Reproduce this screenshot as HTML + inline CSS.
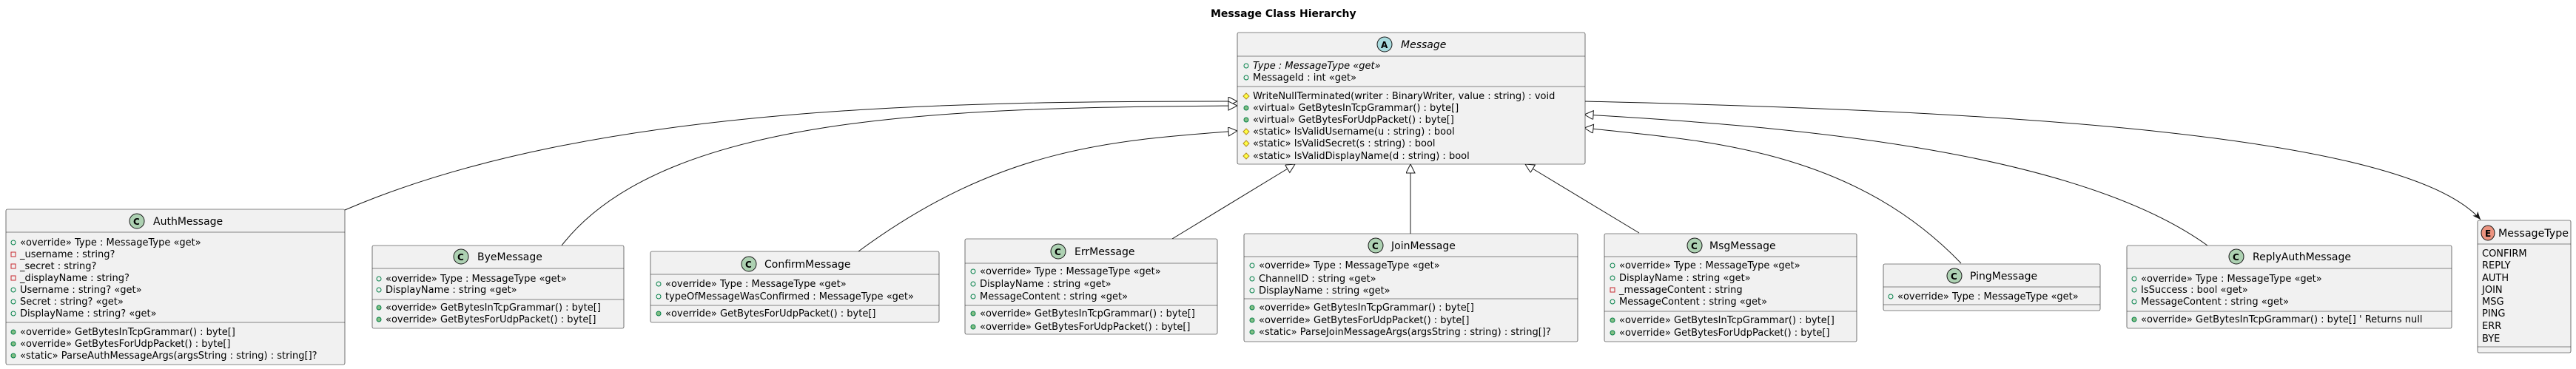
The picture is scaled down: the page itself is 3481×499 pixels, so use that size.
<!DOCTYPE html>
<html><head><meta charset="utf-8"><style>
html,body{margin:0;padding:0;background:#fff;}
svg{display:block;}
text{font-family:"DejaVu Sans","Liberation Sans",sans-serif;font-size:13px;fill:#000;}
.t{font-size:14px;}
.h{font-size:14px;font-weight:bold;}
.b{fill:#F1F1F1;stroke:#181818;stroke-width:0.6;}
.s{stroke:#181818;stroke-width:0.6;}
.c{fill:none;stroke:#181818;stroke-width:1;}
.fo{fill:none;stroke:#038048;stroke-width:1;}
.mo{fill:#84BE84;stroke:#038048;stroke-width:1;}
.po{fill:#FFFF44;stroke:#B38D22;stroke-width:1;}
.xo{fill:none;stroke:#C82930;stroke-width:1;}
</style></head><body>
<svg width="3481" height="499" viewBox="0 0 3481 499" xmlns="http://www.w3.org/2000/svg">
<defs>
<marker id="tri" markerUnits="userSpaceOnUse" markerWidth="14" markerHeight="14" refX="13" refY="6" orient="auto"><path d="M1,0 L13,6 L1,12 Z" fill="#fff" stroke="#181818" stroke-width="1"/></marker>
<marker id="arr" markerUnits="userSpaceOnUse" markerWidth="12" markerHeight="10" refX="11" refY="4.5" orient="auto"><path d="M0,0 L11,4.5 L0,9 L3,4.5 Z" fill="#181818"/></marker>
</defs>

<text class="h" x="1636" y="23">Message Class Hierarchy</text>

<!-- connectors -->
<path class="c" d="M466 284 C 800 140, 1300 137, 1672 137" marker-end="url(#tri)"/>
<path class="c" d="M759 332 C 900 150, 1300 146, 1672 143" marker-end="url(#tri)"/>
<path class="c" d="M1160 340 C 1350 200, 1500 190, 1672 177" marker-end="url(#tri)"/>
<path class="c" d="M1584 323 L 1750 222" marker-end="url(#tri)"/>
<path class="c" d="M1906 316 L 1906 222" marker-end="url(#tri)"/>
<path class="c" d="M2215 315 L 2061 222" marker-end="url(#tri)"/>
<path class="c" d="M2650 356 C 2500 200, 2300 190, 2141 173" marker-end="url(#tri)"/>
<path class="c" d="M2983 332 C 2800 200, 2400 170, 2141 155" marker-end="url(#tri)"/>
<path class="c" d="M2141 137 C 2700 150, 3250 180, 3352 297" marker-end="url(#arr)"/>

<!-- Message -->
<rect class="b" x="1672" y="44" width="470" height="178" rx="2"/>
<line class="s" x1="1672" y1="76" x2="2142" y2="76"/>
<line class="s" x1="1672" y1="117" x2="2142" y2="117"/>
<ellipse cx="1871" cy="60" rx="10" ry="10" fill="#A9DCDF" stroke="#181818" stroke-width="1"/>
<text x="1866" y="65" style="font-weight:bold;font-size:12px">A</text>
<text class="t" x="1893" y="65" style="font-style:italic">Message</text>
<circle class="fo" cx="1684" cy="89" r="3"/><text x="1693" y="93" style="font-style:italic">Type : MessageType «get»</text>
<circle class="fo" cx="1684" cy="105" r="3"/><text x="1693" y="109">MessageId : int «get»</text>
<path class="po" d="M1684 126 l4 4 l-4 4 l-4 -4 Z"/><text x="1693" y="134">WriteNullTerminated(writer : BinaryWriter, value : string) : void</text>
<circle class="mo" cx="1684" cy="146" r="3"/><text x="1693" y="150">«virtual» GetBytesInTcpGrammar() : byte[]</text>
<circle class="mo" cx="1684" cy="162" r="3"/><text x="1693" y="166">«virtual» GetBytesForUdpPacket() : byte[]</text>
<path class="po" d="M1684 174 l4 4 l-4 4 l-4 -4 Z"/><text x="1693" y="182">«static» IsValidUsername(u : string) : bool</text>
<path class="po" d="M1684 190 l4 4 l-4 4 l-4 -4 Z"/><text x="1693" y="198">«static» IsValidSecret(s : string) : bool</text>
<path class="po" d="M1684 207 l4 4 l-4 4 l-4 -4 Z"/><text x="1693" y="215">«static» IsValidDisplayName(d : string) : bool</text>

<!-- AuthMessage -->
<rect class="b" x="8" y="283" width="458" height="210" rx="2"/>
<line class="s" x1="8" y1="314" x2="466" y2="314"/>
<line class="s" x1="8" y1="436" x2="466" y2="436"/>
<ellipse cx="185" cy="299" rx="10" ry="10" fill="#ADD1B2" stroke="#181818" stroke-width="1"/>
<text x="180" y="304" style="font-weight:bold;font-size:12px">C</text>
<text class="t" x="207" y="304">AuthMessage</text>
<circle class="fo" cx="18" cy="328" r="3"/><text x="27" y="332">«override» Type : MessageType «get»</text>
<rect class="xo" x="15" y="341" width="6" height="6"/><text x="27" y="348">_username : string?</text>
<rect class="xo" x="15" y="357" width="6" height="6"/><text x="27" y="364">_secret : string?</text>
<rect class="xo" x="15" y="373" width="6" height="6"/><text x="27" y="380">_displayName : string?</text>
<circle class="fo" cx="18" cy="392" r="3"/><text x="27" y="396">Username : string? «get»</text>
<circle class="fo" cx="18" cy="408" r="3"/><text x="27" y="412">Secret : string? «get»</text>
<circle class="fo" cx="18" cy="424" r="3"/><text x="27" y="428">DisplayName : string? «get»</text>
<circle class="mo" cx="18" cy="449" r="3"/><text x="27" y="453">«override» GetBytesInTcpGrammar() : byte[]</text>
<circle class="mo" cx="18" cy="465" r="3"/><text x="27" y="469">«override» GetBytesForUdpPacket() : byte[]</text>
<circle class="mo" cx="18" cy="481" r="3"/><text x="27" y="485">«static» ParseAuthMessageArgs(argsString : string) : string[]?</text>

<!-- ByeMessage -->
<rect class="b" x="503" y="332" width="340" height="112" rx="2"/>
<line class="s" x1="503" y1="363" x2="843" y2="363"/>
<line class="s" x1="503" y1="405" x2="843" y2="405"/>
<ellipse cx="623" cy="347" rx="10" ry="10" fill="#ADD1B2" stroke="#181818" stroke-width="1"/>
<text x="618" y="352" style="font-weight:bold;font-size:12px">C</text>
<text class="t" x="645" y="352">ByeMessage</text>
<circle class="fo" cx="512" cy="377" r="3"/><text x="521" y="381">«override» Type : MessageType «get»</text>
<circle class="fo" cx="512" cy="392" r="3"/><text x="521" y="396">DisplayName : string «get»</text>
<circle class="mo" cx="512" cy="416" r="3"/><text x="521" y="420">«override» GetBytesInTcpGrammar() : byte[]</text>
<circle class="mo" cx="512" cy="432" r="3"/><text x="521" y="436">«override» GetBytesForUdpPacket() : byte[]</text>

<!-- ConfirmMessage -->
<rect class="b" x="879" y="340" width="390" height="96" rx="2"/>
<line class="s" x1="879" y1="371" x2="1269" y2="371"/>
<line class="s" x1="879" y1="413" x2="1269" y2="413"/>
<ellipse cx="1012" cy="357" rx="10" ry="10" fill="#ADD1B2" stroke="#181818" stroke-width="1"/>
<text x="1007" y="362" style="font-weight:bold;font-size:12px">C</text>
<text class="t" x="1033" y="362">ConfirmMessage</text>
<circle class="fo" cx="890" cy="384" r="3"/><text x="899" y="388">«override» Type : MessageType «get»</text>
<circle class="fo" cx="890" cy="401" r="3"/><text x="899" y="405">typeOfMessageWasConfirmed : MessageType «get»</text>
<circle class="mo" cx="890" cy="424" r="3"/><text x="899" y="428">«override» GetBytesForUdpPacket() : byte[]</text>

<!-- ErrMessage -->
<rect class="b" x="1304" y="323" width="341" height="129" rx="2"/>
<line class="s" x1="1304" y1="356" x2="1645" y2="356"/>
<line class="s" x1="1304" y1="413" x2="1645" y2="413"/>
<ellipse cx="1430" cy="340" rx="10" ry="10" fill="#ADD1B2" stroke="#181818" stroke-width="1"/>
<text x="1425" y="345" style="font-weight:bold;font-size:12px">C</text>
<text class="t" x="1452" y="345">ErrMessage</text>
<circle class="fo" cx="1315" cy="367" r="3"/><text x="1324" y="371">«override» Type : MessageType «get»</text>
<circle class="fo" cx="1315" cy="384" r="3"/><text x="1324" y="388">DisplayName : string «get»</text>
<circle class="fo" cx="1315" cy="401" r="3"/><text x="1324" y="405">MessageContent : string «get»</text>
<circle class="mo" cx="1315" cy="424" r="3"/><text x="1324" y="428">«override» GetBytesInTcpGrammar() : byte[]</text>
<circle class="mo" cx="1315" cy="442" r="3"/><text x="1324" y="446">«override» GetBytesForUdpPacket() : byte[]</text>

<!-- JoinMessage -->
<rect class="b" x="1681" y="316" width="451" height="146" rx="2"/>
<line class="s" x1="1681" y1="347" x2="2132" y2="347"/>
<line class="s" x1="1681" y1="404" x2="2132" y2="404"/>
<ellipse cx="1859" cy="332" rx="10" ry="10" fill="#ADD1B2" stroke="#181818" stroke-width="1"/>
<text x="1854" y="337" style="font-weight:bold;font-size:12px">C</text>
<text class="t" x="1880" y="337">JoinMessage</text>
<circle class="fo" cx="1692" cy="359" r="3"/><text x="1701" y="363">«override» Type : MessageType «get»</text>
<circle class="fo" cx="1692" cy="377" r="3"/><text x="1701" y="381">ChannelID : string «get»</text>
<circle class="fo" cx="1692" cy="393" r="3"/><text x="1701" y="397">DisplayName : string «get»</text>
<circle class="mo" cx="1692" cy="416" r="3"/><text x="1701" y="420">«override» GetBytesInTcpGrammar() : byte[]</text>
<circle class="mo" cx="1692" cy="433" r="3"/><text x="1701" y="437">«override» GetBytesForUdpPacket() : byte[]</text>
<circle class="mo" cx="1692" cy="449" r="3"/><text x="1701" y="453">«static» ParseJoinMessageArgs(argsString : string) : string[]?</text>

<!-- MsgMessage -->
<rect class="b" x="2168" y="316" width="341" height="146" rx="2"/>
<line class="s" x1="2168" y1="347" x2="2509" y2="347"/>
<line class="s" x1="2168" y1="421" x2="2509" y2="421"/>
<ellipse cx="2290" cy="332" rx="10" ry="10" fill="#ADD1B2" stroke="#181818" stroke-width="1"/>
<text x="2285" y="337" style="font-weight:bold;font-size:12px">C</text>
<text class="t" x="2310" y="337">MsgMessage</text>
<circle class="fo" cx="2179" cy="359" r="3"/><text x="2188" y="363">«override» Type : MessageType «get»</text>
<circle class="fo" cx="2179" cy="376" r="3"/><text x="2188" y="380">DisplayName : string «get»</text>
<rect class="xo" x="2176" y="389" width="6" height="6"/><text x="2188" y="396">_messageContent : string</text>
<circle class="fo" cx="2179" cy="408" r="3"/><text x="2188" y="412">MessageContent : string «get»</text>
<circle class="mo" cx="2179" cy="433" r="3"/><text x="2188" y="437">«override» GetBytesInTcpGrammar() : byte[]</text>
<circle class="mo" cx="2179" cy="450" r="3"/><text x="2188" y="454">«override» GetBytesForUdpPacket() : byte[]</text>

<!-- PingMessage -->
<rect class="b" x="2545" y="357" width="293" height="63" rx="2"/>
<line class="s" x1="2545" y1="388" x2="2838" y2="388"/>
<line class="s" x1="2545" y1="412" x2="2838" y2="412"/>
<ellipse cx="2641" cy="373" rx="10" ry="10" fill="#ADD1B2" stroke="#181818" stroke-width="1"/>
<text x="2636" y="378" style="font-weight:bold;font-size:12px">C</text>
<text class="t" x="2662" y="378">PingMessage</text>
<circle class="fo" cx="2555" cy="401" r="3"/><text x="2564" y="405">«override» Type : MessageType «get»</text>

<!-- ReplyAuthMessage -->
<rect class="b" x="2874" y="332" width="439" height="112" rx="2"/>
<line class="s" x1="2874" y1="363" x2="3313" y2="363"/>
<line class="s" x1="2874" y1="421" x2="3313" y2="421"/>
<ellipse cx="3022" cy="347" rx="10" ry="10" fill="#ADD1B2" stroke="#181818" stroke-width="1"/>
<text x="3017" y="352" style="font-weight:bold;font-size:12px">C</text>
<text class="t" x="3044" y="352">ReplyAuthMessage</text>
<circle class="fo" cx="2884" cy="377" r="3"/><text x="2893" y="381">«override» Type : MessageType «get»</text>
<circle class="fo" cx="2884" cy="392" r="3"/><text x="2893" y="396">IsSuccess : bool «get»</text>
<circle class="fo" cx="2884" cy="408" r="3"/><text x="2893" y="412">MessageContent : string «get»</text>
<circle class="mo" cx="2884" cy="432" r="3"/><text x="2893" y="436">«override» GetBytesInTcpGrammar() : byte[] ' Returns null</text>

<!-- MessageType -->
<rect class="b" x="3348" y="298" width="126" height="179" rx="2"/>
<line class="s" x1="3348" y1="330" x2="3474" y2="330"/>
<line class="s" x1="3348" y1="469" x2="3474" y2="469"/>
<ellipse cx="3362" cy="315" rx="9" ry="10" fill="#EB937F" stroke="#181818" stroke-width="1"/>
<text x="3358" y="320" style="font-weight:bold;font-size:12px">E</text>
<text class="t" x="3376" y="320" textLength="95" lengthAdjust="spacingAndGlyphs">MessageType</text>
<text x="3354" y="347">CONFIRM</text>
<text x="3354" y="363">REPLY</text>
<text x="3354" y="380">AUTH</text>
<text x="3354" y="396">JOIN</text>
<text x="3354" y="412">MSG</text>
<text x="3354" y="428">PING</text>
<text x="3354" y="445">ERR</text>
<text x="3354" y="462">BYE</text>
</svg>
</body></html>
